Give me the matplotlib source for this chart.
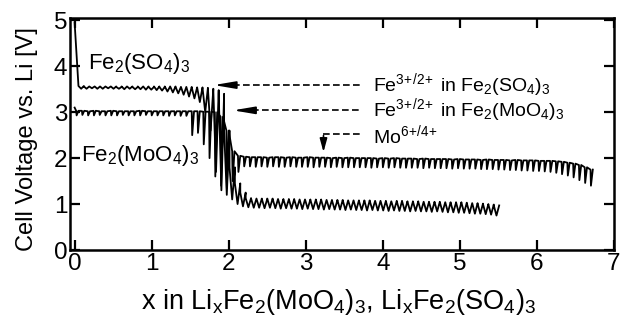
import numpy as np
import matplotlib
matplotlib.use("Agg")
import matplotlib.pyplot as plt

plt.rcParams['font.family'] = ['Liberation Sans', 'DejaVu Sans']
plt.rcParams['mathtext.fontset'] = 'custom'
plt.rcParams['mathtext.rm'] = 'Liberation Sans'
plt.rcParams['mathtext.it'] = 'Liberation Sans:italic'

# GITT discharge of Fe2(SO4)3 : one rest / one on-load voltage per pulse
sulf_x0, sulf_dx, sulf_ocv = 0.05, 0.07, 4.95
sulf_rest = [3.57, 3.56, 3.56, 3.56, 3.56, 3.56, 3.56, 3.55, 3.56, 3.56, 3.55, 3.56, 3.56, 3.55, 3.56, 3.55,
             3.56, 3.56, 3.55, 3.55, 3.55, 3.54, 3.54,
             3.53, 3.51, 3.48, 3.40, 2.60, 1.80, 1.45, 1.25,
             1.13, 1.12, 1.12, 1.11, 1.12, 1.11, 1.11, 1.10, 1.11, 1.10,
             1.10, 1.10, 1.09, 1.10, 1.09, 1.09, 1.08, 1.09, 1.08, 1.08,
             1.08, 1.07, 1.08, 1.07, 1.07, 1.07, 1.06, 1.06, 1.07, 1.06,
             1.05, 1.06, 1.05, 1.05, 1.04, 1.05, 1.04, 1.04, 1.03, 1.04,
             1.03, 1.02, 1.02, 1.01, 1.00, 0.99, 0.97]
sulf_load = [3.51, 3.51, 3.52, 3.51, 3.51, 3.52, 3.51, 3.51, 3.50, 3.51, 3.50, 3.50, 3.49, 3.49, 3.48, 3.47,
             3.45, 3.43, 3.41, 3.38, 3.34, 3.30, 3.22,
             3.00, 2.60, 1.70, 1.30, 1.20, 1.10, 1.00, 0.95,
             0.93, 0.92, 0.92, 0.91, 0.92, 0.91, 0.90, 0.91, 0.90, 0.90,
             0.89, 0.90, 0.89, 0.89, 0.88, 0.89, 0.88, 0.88, 0.87, 0.88,
             0.87, 0.87, 0.86, 0.87, 0.86, 0.86, 0.85, 0.86, 0.85, 0.85,
             0.84, 0.85, 0.84, 0.84, 0.83, 0.84, 0.83, 0.82, 0.82, 0.81,
             0.81, 0.80, 0.79, 0.79, 0.78, 0.77, 0.75]

# GITT discharge of Fe2(MoO4)3
moly_x0, moly_dx, moly_ocv = 0.02, 0.075, 3.10
moly_rest = [3.03, 3.03, 3.02, 3.03, 3.02, 3.02, 3.03, 3.02, 3.02, 3.02,
             3.02, 3.03, 3.02, 3.02, 3.02, 3.02, 3.02, 3.02, 3.02, 3.02,
             3.02, 3.02, 3.01, 3.01, 3.00, 2.90, 2.60, 2.15, 2.05,
             2.03, 2.02, 2.02, 2.02, 2.01, 2.02, 2.02, 2.01, 2.02, 2.01,
             2.01, 2.02, 2.01, 2.01, 2.01, 2.00, 2.01, 2.00, 2.01, 2.00,
             2.00, 2.00, 2.00, 1.99, 2.00, 1.99, 2.00, 1.99, 1.99, 1.99,
             1.98, 1.99, 1.98, 1.98, 1.98, 1.98, 1.97, 1.98, 1.97, 1.97,
             1.97, 1.96, 1.97, 1.96, 1.96, 1.96, 1.95, 1.96, 1.95, 1.95,
             1.95, 1.94, 1.94,
             1.94, 1.93, 1.92, 1.90, 1.88, 1.85, 1.80, 1.75]
moly_load = [2.93, 2.94, 2.93, 2.93, 2.94, 2.93, 2.93, 2.93, 2.94, 2.93,
             2.93, 2.93, 2.94, 2.93, 2.93, 2.93, 2.92, 2.93, 2.92, 2.92,
             2.50, 2.55, 2.30, 2.00, 1.60, 1.40, 1.35, 1.50, 1.70,
             1.82, 1.82, 1.81, 1.82, 1.81, 1.82, 1.81, 1.81, 1.82, 1.81,
             1.81, 1.81, 1.80, 1.81, 1.81, 1.80, 1.81, 1.80, 1.80, 1.80,
             1.80, 1.80, 1.79, 1.80, 1.80, 1.79, 1.80, 1.79, 1.79, 1.79,
             1.79, 1.78, 1.79, 1.78, 1.78, 1.78, 1.77, 1.78, 1.77, 1.77,
             1.77, 1.76, 1.76, 1.76, 1.75, 1.75, 1.74, 1.74, 1.73, 1.73,
             1.72, 1.72, 1.71,
             1.70, 1.68, 1.65, 1.62, 1.58, 1.52, 1.46, 1.40]

x_ticks = [0, 1, 2, 3, 4, 5, 6, 7]
y_ticks = [0, 1, 2, 3, 4, 5]


def gitt_trace(x0, dx, ocv, rest, load, a, b):
    # each pulse: rest voltage, dip to on-load voltage, recover
    xs, ys = [0.0], [ocv]
    for i, (r, l) in enumerate(zip(rest, load)):
        x = x0 + i * dx
        xs += [x, x + a * dx, x + b * dx]
        ys += [r, l, r]
    return xs, ys


fig = plt.figure(figsize=(6.21, 3.22), dpi=100)
ax = fig.add_axes([0.1127, 0.2236, 0.876, 0.7205])

sx, sy = gitt_trace(sulf_x0, sulf_dx, sulf_ocv, sulf_rest, sulf_load, 0.5, 1.0)
mx, my = gitt_trace(moly_x0, moly_dx, moly_ocv, moly_rest, moly_load, 0.08, 0.4)
ax.plot(sx, sy, color='black', lw=1.3)
ax.plot(mx, my, color='black', lw=1.3)

ax.set_xlim(-0.06, 7.0)
ax.set_ylim(0, 5.05)
ax.set_xticks(x_ticks)
ax.set_yticks(y_ticks)
ax.tick_params(direction='in', length=7, width=1.6, labelsize=17.5, pad=2,
               top=True, right=True)
for s in ax.spines.values():
    s.set_linewidth(1.8)

# compound labels
ax.text(0.17, 4.05, r'$\mathrm{Fe_2(SO_4)_3}$', fontsize=16, va='center')
ax.text(0.08, 2.05, r'$\mathrm{Fe_2(MoO_4)_3}$', fontsize=16, va='center')

# redox assignments with dashed arrows
dash = dict(color='black', lw=1.2, ls=(0, (4, 2)))
head = '-|>,head_length=1.3,head_width=0.22'
ax.plot([2.05, 3.7], [3.59, 3.59], **dash)
ax.annotate('', xy=(1.77, 3.59), xytext=(2.1, 3.59),
            arrowprops=dict(arrowstyle=head, color='black', lw=1.2))
ax.plot([2.3, 3.7], [3.04, 3.04], **dash)
ax.annotate('', xy=(2.02, 3.04), xytext=(2.35, 3.04),
            arrowprops=dict(arrowstyle=head, color='black', lw=1.2))
ax.plot([3.23, 3.7], [2.53, 2.53], **dash)
ax.annotate('', xy=(3.23, 2.07), xytext=(3.23, 2.55),
            arrowprops=dict(arrowstyle='-|>,head_length=0.8,head_width=0.22', color='black', lw=1.2))

ax.text(3.87, 3.59, r'Fe$^{\mathrm{3\!+\!/2\!+}}$ in Fe$_\mathrm{2}$(SO$_\mathrm{4}$)$_\mathrm{3}$',
        fontsize=14, va='center')
ax.text(3.87, 3.04, r'Fe$^{\mathrm{3\!+\!/2\!+}}$ in Fe$_\mathrm{2}$(MoO$_\mathrm{4}$)$_\mathrm{3}$',
        fontsize=14, va='center')
ax.text(3.87, 2.50, r'Mo$^{\mathrm{6\!+\!/4\!+}}$', fontsize=14, va='center')

fig.text(0.044, 0.568, 'Cell Voltage vs. Li [V]', rotation=90, fontsize=17,
         ha='center', va='center')
fig.text(0.545, 0.062, r'x in $\mathrm{Li_xFe_2(MoO_4)_3}$, $\mathrm{Li_xFe_2(SO_4)_3}$',
         fontsize=19.5, ha='center', va='center')

fig.savefig('out.png', dpi=100)
